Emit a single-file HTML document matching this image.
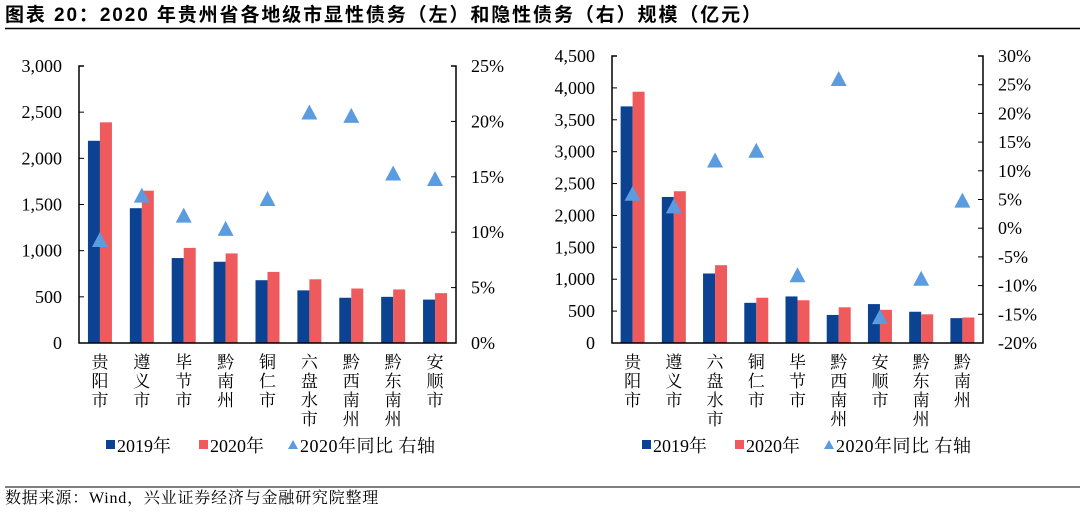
<!DOCTYPE html>
<html><head><meta charset="utf-8"><style>
body{margin:0;background:#fff;width:1080px;height:514px;overflow:hidden}
svg{font-family:"Liberation Serif","Noto Serif CJK SC",serif}
</style></head><body>
<svg id="s" width="1080" height="514" xmlns="http://www.w3.org/2000/svg">
<text x="5" y="21" font-size="19" font-weight="bold" letter-spacing="1.9" font-family="Liberation Sans,'Noto Sans CJK SC',sans-serif">图表 20：2020 年贵州省各地级市显性债务（左）和隐性债务（右）规模（亿元）</text>
<line x1="5" y1="28.5" x2="1080" y2="28.5" stroke="#000" stroke-width="1.5"/>
<line x1="5" y1="487" x2="1080" y2="487" stroke="#000" stroke-width="1"/>
<text x="5" y="503" font-size="16" letter-spacing="0.8">数据来源：Wind，兴业证券经济与金融研究院整理</text>
</svg>
<script>
const catsL=["贵阳市","遵义市","毕节市","黔南州","铜仁市","六盘水市","黔西南州","黔东南州","安顺市"];
const v19L=[2190,1460,920,880,680,570,490,500,470];
const v20L=[2390,1650,1030,970,770,690,590,580,540];
const yoyL=[9.3,13.3,11.5,10.3,13.0,20.8,20.5,15.3,14.8];
const ticksLL=[0,500,1000,1500,2000,2500,3000];
const ticksLR=[0,5,10,15,20,25];
const catsR=["贵阳市","遵义市","六盘水市","铜仁市","毕节市","黔西南州","安顺市","黔东南州","黔南州"];
const v19R=[3710,2290,1090,630,730,440,610,490,390];
const v20R=[3940,2380,1220,710,670,560,520,450,400];
const yoyR=[6.0,3.8,11.8,13.5,-8.2,26.0,-15.5,-8.8,4.8];
const ticksRL=[0,500,1000,1500,2000,2500,3000,3500,4000,4500];
const ticksRR=[-20,-15,-10,-5,0,5,10,15,20,25,30];
const NS="http://www.w3.org/2000/svg",S=document.getElementById('s');
function mk(t,a,txt){const e=document.createElementNS(NS,t);for(const k in a)e.setAttribute(k,a[k]);if(txt!=null)e.textContent=txt;S.appendChild(e);return e;}
function fmt(v){return v.toLocaleString('en-US');}
function chart(o){
 const {x0,x1,yTop,yBot,lmax,rmin,rmax,cats,a,b,c,tl,tr,p}=o;
 const yL=v=>yBot-(v/lmax)*(yBot-yTop);
 const yR=v=>yBot-((v-rmin)/(rmax-rmin))*(yBot-yTop);
 const bw=(x1-x0)/cats.length;
 tl.forEach(t=>{let e=mk('text',{x:x0-17,y:yL(t)+6,'font-size':18,'text-anchor':'end'},fmt(t));
  
  e=mk('line',{x1:x0,x2:x0+5,y1:yL(t),y2:yL(t),stroke:'#000'});
  });
 tr.forEach(t=>{let e=mk('text',{x:x1+15,y:yR(t)+6,'font-size':18},t+'%');
  
  e=mk('line',{x1:x1-5,x2:x1,y1:yR(t),y2:yR(t),stroke:'#000'});
  });
 cats.forEach((c0,i)=>{const cx=x0+bw*(i+0.5);
  let e=mk('rect',{x:cx-12,y:yL(a[i]),width:12,height:yBot-yL(a[i]),fill:'#0b4392'});
  
  e=mk('rect',{x:cx,y:yL(b[i]),width:12,height:yBot-yL(b[i]),fill:'#ef5a5d'});
  
  const ty=yR(c[i]);
  e=mk('polygon',{points:`${cx-8},${ty+7} ${cx+8},${ty+7} ${cx},${ty-8}`,fill:'#5b9bdf'});
  
  [...c0].forEach((ch,j)=>{e=mk('text',{x:cx,y:368+j*19,'font-size':17,'text-anchor':'middle'},ch);
   });
 });
 let e=mk('path',{d:`M${x0+5} ${yTop}H${x0}V${yBot}H${x1}V${yTop}H${x1-5}`,fill:'none',stroke:'#000','stroke-width':1.5});
 
 const lx=o.lx;
 e=mk('rect',{x:lx,y:440,width:9,height:9,fill:'#0b4392'});
 e=mk('text',{x:lx+11,y:452,'font-size':18},'2019年');
 e=mk('rect',{x:lx+93,y:440,width:9,height:9,fill:'#ef5a5d'});
 e=mk('text',{x:lx+104,y:452,'font-size':18},'2020年');
 e=mk('polygon',{points:`${lx+182},${449} ${lx+192},${449} ${lx+187},${440}`,fill:'#5b9bdf'});
 e=mk('text',{x:lx+194,y:452,'font-size':18,'letter-spacing':0.5},'2020年同比 右轴');
}
chart({x0:79,x1:456,yTop:66,yBot:343,lmax:3000,rmin:0,rmax:25,cats:catsL,a:v19L,b:v20L,c:yoyL,tl:ticksLL,tr:ticksLR,p:'explicit',lx:106});
chart({x0:612,x1:983,yTop:56,yBot:343,lmax:4500,rmin:-20,rmax:30,cats:catsR,a:v19R,b:v20R,c:yoyR,tl:ticksRL,tr:ticksRR,p:'implicit',lx:642});
</script>
</body></html>
